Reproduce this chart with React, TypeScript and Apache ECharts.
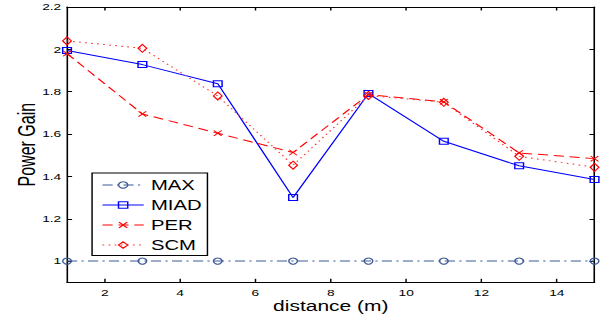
import React, { useEffect, useRef } from "react";
import * as echarts from "echarts";

const xValues = [1, 3, 5, 7, 9, 11, 13, 15];
const maxValues = [1, 1, 1, 1, 1, 1, 1, 1];
const miadValues = [1.995, 1.928, 1.838, 1.3, 1.791, 1.566, 1.45, 1.385];
const perValues = [1.98, 1.695, 1.604, 1.513, 1.786, 1.752, 1.511, 1.484];
const scmValues = [2.04, 2.005, 1.78, 1.453, 1.782, 1.75, 1.495, 1.443];
const xTicks = [2, 4, 6, 8, 10, 12, 14];
const yTicks = [1, 1.2, 1.4, 1.6, 1.8, 2, 2.2];

const INNER_W = 420;
const SCALE = 608 / INNER_W;
const FONT = "'Liberation Sans', Arial, Helvetica, sans-serif";
const CROSS = "path://M0,1 L1,0 L5,4 L9,0 L10,1 L6,5 L10,9 L9,10 L5,6 L1,10 L0,9 L4,5 Z";

const pts = (ys: number[]) => xValues.map((x, i) => [x, ys[i]]);

export default function App() {
  const ref = useRef<HTMLDivElement>(null);
  useEffect(() => {
    if (!ref.current) return;
    const chart = echarts.init(ref.current, null, { renderer: "svg" });
    const tick = { inside: true, length: 3.5, lineStyle: { color: "#000", width: 1 } };
    const line = { onZero: false, lineStyle: { color: "#000", width: 1.1 } };
    const lbl = { color: "#000", fontSize: 9.5, fontFamily: FONT };
    chart.setOption({
      animation: false,
      grid: { left: 46.3, right: 9.3, top: 7, bottom: 41.7, containLabel: false, outerBoundsMode: "none" },
      legend: {
        orient: "vertical",
        left: 63.6,
        top: 173,
        padding: [5, 4, 3.5, 6.7],
        itemWidth: 28.5,
        itemHeight: 8,
        itemGap: 6,
        backgroundColor: "#fff",
        borderColor: "#000",
        borderWidth: 1,
        borderRadius: 0,
        selectedMode: false,
        lineStyle: { width: 1 },
        itemStyle: { borderWidth: 1 },
        textStyle: { color: "#000", fontSize: 14, fontFamily: FONT },
        data: ["MAX", "MIAD", "PER", "SCM"],
      },
      xAxis: [
        {
          type: "value", min: 1, max: 15, position: "bottom",
          axisLine: line,
          axisTick: { ...tick, customValues: xTicks },
          axisLabel: { ...lbl, margin: 5, customValues: xTicks },
          splitLine: { show: false },
          name: "distance (m)", nameLocation: "middle", nameGap: 16.5, nameMoveOverlap: false,
          nameTextStyle: { color: "#000", fontSize: 14.5, fontFamily: FONT },
        },
        {
          type: "value", min: 1, max: 15, position: "top",
          axisLine: line,
          axisTick: { ...tick, customValues: xTicks },
          axisLabel: { show: false, customValues: xTicks },
          splitLine: { show: false },
        },
      ],
      yAxis: [
        {
          type: "value", min: 0.9, max: 2.2, position: "left",
          axisLine: line,
          axisTick: { ...tick, customValues: yTicks },
          axisLabel: { ...lbl, margin: 4, customValues: yTicks },
          splitLine: { show: false },
          name: "Power Gain", nameLocation: "middle", nameGap: 20, nameMoveOverlap: false,
          nameTextStyle: { color: "#000", fontSize: 16, fontFamily: FONT },
        },
        {
          type: "value", min: 0.9, max: 2.2, position: "right",
          axisLine: line,
          axisTick: { ...tick, customValues: yTicks },
          axisLabel: { show: false, customValues: yTicks },
          splitLine: { show: false },
        },
      ],
      series: [
        {
          name: "MAX", type: "line", data: pts(maxValues), symbol: "circle", symbolSize: 6,
          lineStyle: { color: "#3c5a98", width: 1, type: [7, 3, 1.5, 3] },
          itemStyle: { color: "rgba(0,0,0,0)", borderColor: "#3c5a98", borderWidth: 1 },
          emphasis: { disabled: true }, silent: true,
        },
        {
          name: "MIAD", type: "line", data: pts(miadValues), symbol: "rect", symbolSize: 6,
          lineStyle: { color: "#0000ff", width: 1, type: "solid" },
          itemStyle: { color: "rgba(0,0,0,0)", borderColor: "#0000ff", borderWidth: 1 },
          emphasis: { disabled: true }, silent: true,
        },
        {
          name: "PER", type: "line", data: pts(perValues), symbol: CROSS, symbolSize: 6,
          lineStyle: { color: "#ff0000", width: 1, type: [7, 4] },
          itemStyle: { color: "#ff0000" },
          emphasis: { disabled: true }, silent: true,
        },
        {
          name: "SCM", type: "line", data: pts(scmValues), symbol: "diamond", symbolSize: [6, 8],
          lineStyle: { color: "#ff3030", width: 1, type: [1.2, 3] },
          itemStyle: { color: "rgba(0,0,0,0)", borderColor: "#ff0000", borderWidth: 1 },
          emphasis: { disabled: true }, silent: true,
        },
      ],
    });
    return () => chart.dispose();
  }, []);
  return (
    <div style={{ position: "absolute", left: 0, top: 0, width: 608, height: 324, overflow: "hidden", background: "#fff" }}>
      <div
        ref={ref}
        style={{ width: INNER_W, height: 324, transform: `scaleX(${SCALE})`, transformOrigin: "0 0" }}
      />
    </div>
  );
}
